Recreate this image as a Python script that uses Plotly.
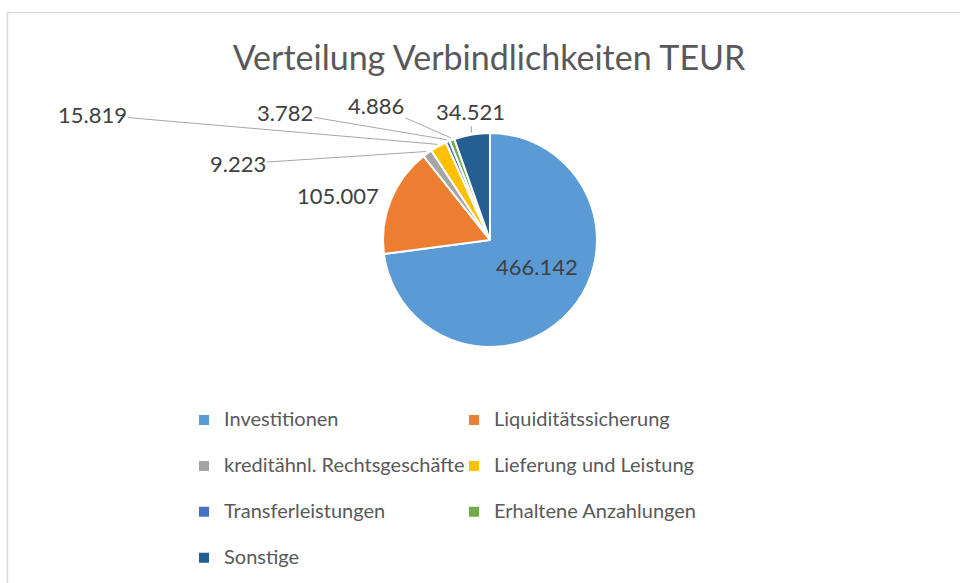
import math
import plotly.graph_objects as go

# ---- data ----
categories = ["Investitionen", "Liquiditätssicherung", "kreditähnl. Rechtsgeschäfte",
              "Lieferung und Leistung", "Transferleistungen", "Erhaltene Anzahlungen", "Sonstige"]
values = [466.142, 105.007, 9.223, 15.819, 3.782, 4.886, 34.521]
value_labels = ["466.142", "105.007", "9.223", "15.819", "3.782", "4.886", "34.521"]
colors = ["#5B9BD5", "#ED7D31", "#A5A5A5", "#FFC000", "#4472C4", "#70AD47", "#255E91"]
title_text = "Verteilung Verbindlichkeiten TEUR"

# ---- layout constants (pixels) ----
W, H = 960, 583
ML, MR = 0, 240
PW = W - ML - MR
CX, CY, R = 490, 240, 107

def px(x):
    return (x - ML) / PW

def py(y):
    return 1 - y / H

# label text centres (pixels); leader flag
label_pos = [(537, 266, False), (337.5, 195.5, False), (237.5, 164, True),
             (92, 114.5, True), (285, 112.5, True), (376, 105, True), (470, 111, True)]

FONT = "Lato"
legend_labels = ["<span style='font-size:20px'>%s</span><br> " % c for c in categories]

fig = go.Figure(go.Pie(
    labels=legend_labels,
    values=values,
    sort=False,
    direction="clockwise",
    rotation=0,
    marker=dict(colors=colors, line=dict(color="white", width=2)),
    textinfo="none",
    hoverinfo="label+value",
    domain=dict(x=[px(CX - R), px(CX + R)], y=[py(CY + R), py(CY - R)]),
))

total = sum(values)
annotations = []
cum = 0.0
for v, lab, (lx, ly, leader) in zip(values, value_labels, label_pos):
    mid = (cum + v / 2) / total
    cum += v
    th = 2 * math.pi * mid
    if leader:
        tx = CX + 1.02 * R * math.sin(th)
        ty = CY - 1.02 * R * math.cos(th)
        annotations.append(dict(
            x=px(tx), y=py(ty), xref="paper", yref="paper",
            text=lab, showarrow=True, arrowhead=0, arrowwidth=1, arrowcolor="#A6A6A6",
            ax=lx - tx, ay=ly - ty, standoff=0,
            font=dict(family=FONT, size=22, color="#404040")))
    else:
        annotations.append(dict(
            x=px(lx), y=py(ly), xref="paper", yref="paper", showarrow=False,
            text=lab, xanchor="center", yanchor="middle",
            font=dict(family=FONT, size=22, color="#404040")))

fig.update_layout(
    width=W, height=H,
    margin=dict(l=ML, r=MR, t=0, b=0, autoexpand=False),
    paper_bgcolor="white", plot_bgcolor="white",
    title=dict(text=title_text, x=489 / W, xref="container", xanchor="center",
               y=1 - 58 / H, yref="container", yanchor="middle",
               font=dict(family=FONT, size=34, color="#595959")),
    showlegend=True,
    legend=dict(orientation="h", x=px(184), xanchor="left", y=py(402.8), yanchor="top",
                entrywidth=225, entrywidthmode="pixels", valign="top",
                font=dict(family=FONT, size=16.5, color="#595959"),
                bgcolor="rgba(0,0,0,0)", itemclick=False, itemdoubleclick=False),
    annotations=annotations,
    shapes=[dict(type="rect", xref="paper", yref="paper",
                 x0=px(7.5), x1=px(975), y0=py(600), y1=py(12.5),
                 line=dict(color="#D9D9D9", width=1.5), fillcolor="rgba(0,0,0,0)", layer="below")],
)

fig.write_html("out.html", config={"displayModeBar": False},
               post_script="document.body.style.margin='0';document.body.style.overflow='hidden';")
